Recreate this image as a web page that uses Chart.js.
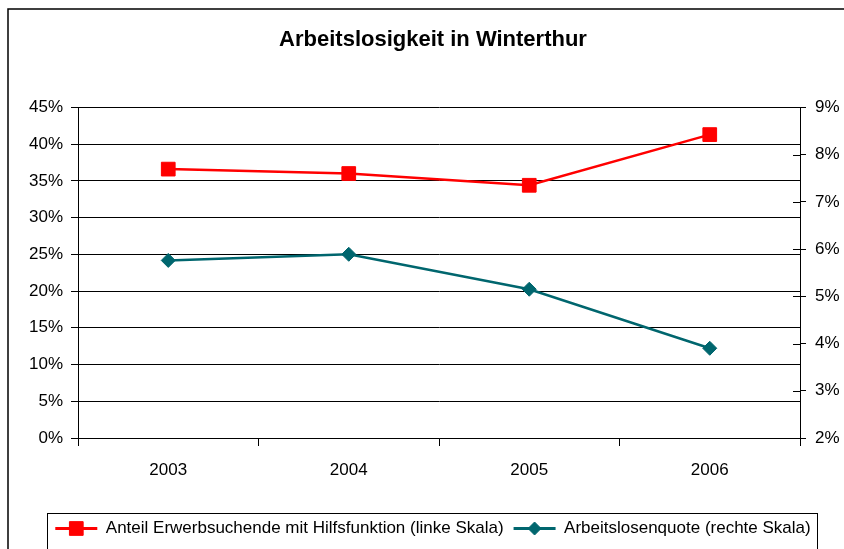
<!DOCTYPE html>
<html>
<head>
<meta charset="utf-8">
<script src="https://cdn.jsdelivr.net/npm/chart.js@4/dist/chart.umd.min.js"></script>
<style>
  html, body { margin: 0; padding: 0; background: #fff; }
  #chart { display: block; }
</style>
</head>
<body>
<canvas id="chart" width="844" height="549"></canvas>
<script>
var jahre = ['2003', '2004', '2005', '2006'];
var anteilHilfsfunktion = [36.6, 36.0, 34.4, 41.3];
var arbeitslosenquote = [5.76, 5.89, 5.15, 3.90];
var titel = 'Arbeitslosigkeit in Winterthur';
var label1 = 'Anteil Erwerbsuchende mit Hilfsfunktion (linke Skala)';
var label2 = 'Arbeitslosenquote (rechte Skala)';

var schrift = '"Liberation Sans", Arial, sans-serif';
var rot = '#ff0000';
var teal = '#00666e';

// rahmen, legendenkasten, kreuz-ticks rechts
var rahmenPlugin = {
    id: 'rahmen',
    beforeDraw: function(chart) {
        var ctx = chart.ctx;
        ctx.save();
        ctx.fillStyle = '#fff';
        ctx.fillRect(0, 0, chart.width, chart.height);
        ctx.strokeStyle = '#000';
        ctx.lineWidth = 1.5;
        ctx.strokeRect(8, 9, chart.width + 10, chart.height + 10);
        ctx.restore();
    },
    afterDraw: function(chart) {
        var ctx = chart.ctx;
        var rechts = chart.scales.yRechts;
        ctx.save();
        ctx.strokeStyle = '#000';
        ctx.lineWidth = 1;
        rechts.ticks.forEach(function(t) {
            var y = Math.round(rechts.getPixelForValue(t.value)) + 0.5;
            ctx.beginPath();
            ctx.moveTo(chart.chartArea.right - 7, y);
            ctx.lineTo(chart.chartArea.right, y);
            ctx.stroke();
        });

        var legend = chart.legend;
        var boxes = legend.legendHitBoxes;
        if (boxes && boxes.length) {
            var first = boxes[0];
            var last = boxes[boxes.length - 1];
            var cy = first.top + first.height / 2;
            ctx.strokeStyle = '#000';
            ctx.strokeRect(Math.round(first.left - 8) + 0.5, Math.round(cy - 16) + 0.5,
                Math.round(last.left + last.width - first.left + 15), 50);
            boxes.forEach(function(b, i) {
                var ds = chart.data.datasets[i];
                var x = b.left + legend.options.labels.boxWidth / 2;
                var y = b.top + b.height / 2;
                ctx.fillStyle = ds.borderColor;
                ctx.strokeStyle = ds.borderColor;
                ctx.lineWidth = 1;
                Chart.helpers.drawPoint(ctx, {
                    pointStyle: ds.pointStyle,
                    radius: ds.legendRadius,
                    borderWidth: 1
                }, x, y);
            });
        }
        ctx.restore();
    }
};

Chart.defaults.font.family = schrift;
Chart.defaults.color = '#000';

var ctx = document.getElementById('chart').getContext('2d');
var chart = new Chart(ctx, {
    type: 'line',
    data: {
        labels: jahre,
        datasets: [{
            label: label1,
            data: anteilHilfsfunktion,
            yAxisID: 'yLinks',
            borderColor: rot,
            backgroundColor: rot,
            borderWidth: 2.5,
            pointStyle: 'rect',
            pointRadius: 9.7,
            pointHoverRadius: 9.7,
            pointBorderWidth: 1,
            pointBackgroundColor: rot,
            pointBorderColor: rot,
            legendRadius: 9.7
        }, {
            label: label2,
            data: arbeitslosenquote,
            yAxisID: 'yRechts',
            borderColor: teal,
            backgroundColor: teal,
            borderWidth: 2.5,
            pointStyle: 'rectRot',
            pointRadius: 7,
            pointHoverRadius: 7,
            pointBorderWidth: 1,
            pointBackgroundColor: teal,
            pointBorderColor: teal,
            legendRadius: 6.5
        }]
    },
    options: {
        responsive: false,
        animation: false,
        layout: { padding: { left: 22, right: 0, top: 0, bottom: 2 } },
        plugins: {
            title: {
                display: true,
                text: titel,
                color: '#000',
                font: { family: schrift, size: 22, weight: 'bold' },
                padding: { top: 27, bottom: 54 }
            },
            legend: {
                position: 'bottom',
                labels: {
                    color: '#000',
                    font: { size: 17 },
                    boxWidth: 42,
                    boxHeight: 3,
                    padding: 10,
                    generateLabels: function(chart) {
                        return chart.data.datasets.map(function(ds, i) {
                            return {
                                text: ds.label,
                                fillStyle: ds.borderColor,
                                strokeStyle: ds.borderColor,
                                lineWidth: 0,
                                fontColor: '#000',
                                datasetIndex: i
                            };
                        });
                    }
                }
            },
            tooltip: { enabled: false }
        },
        scales: {
            x: {
                offset: true,
                grid: { display: true, offset: true, drawOnChartArea: false, color: '#000', tickLength: 8 },
                border: { display: true, color: '#000' },
                ticks: { font: { size: 17 }, padding: 14, color: '#000' },
                afterFit: function(scale) { scale.height = 72; }
            },
            yLinks: {
                position: 'left',
                min: 0,
                max: 45,
                ticks: {
                    stepSize: 5,
                    font: { size: 17 },
                    padding: 8,
                    color: '#000',
                    callback: function(v) { return v + '%'; }
                },
                grid: { color: '#000', tickLength: 7 },
                border: { display: true, color: '#000' },
                afterFit: function(scale) { scale.width = 56; }
            },
            yRechts: {
                position: 'right',
                min: 2,
                max: 9,
                ticks: {
                    stepSize: 1,
                    font: { size: 17 },
                    padding: 9,
                    color: '#000',
                    callback: function(v) { return v + '%'; }
                },
                grid: { drawOnChartArea: false, color: '#000', tickLength: 6 },
                border: { display: true, color: '#000' },
                afterFit: function(scale) { scale.width = 44; }
            }
        }
    },
    plugins: [rahmenPlugin]
});
</script>
</body>
</html>
